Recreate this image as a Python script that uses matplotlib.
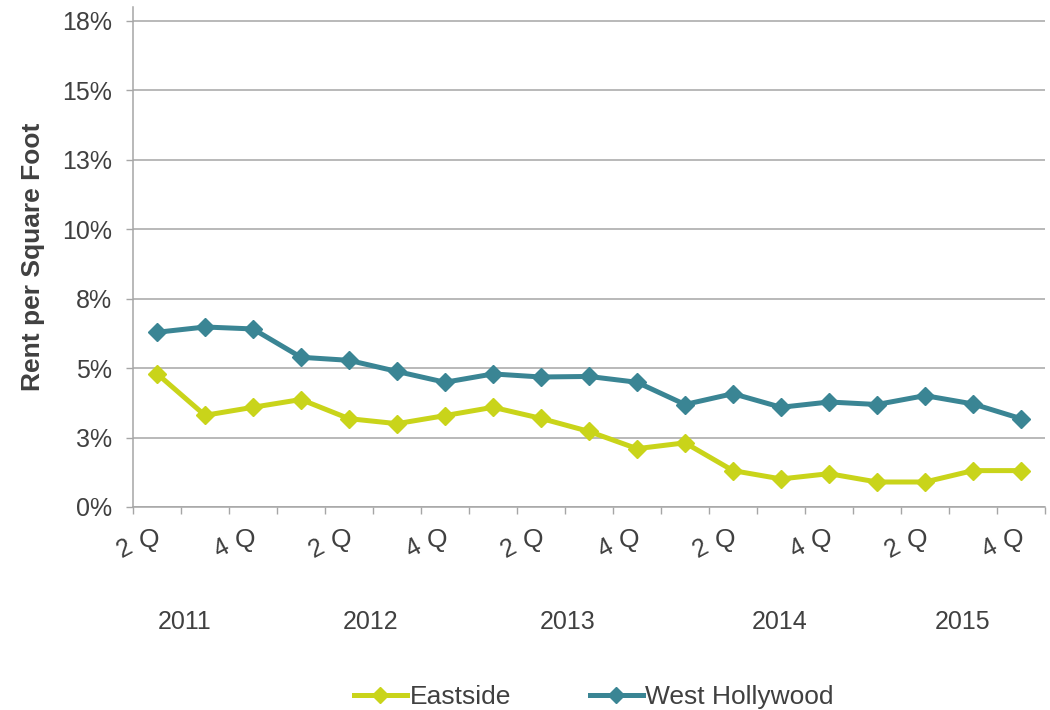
import matplotlib.pyplot as plt
from matplotlib.ticker import FuncFormatter

plt.rcParams["font.family"] = ["Liberation Sans", "DejaVu Sans"]

# quarterly series, 2Q 2011 .. 4Q 2015
quarters = ["2", "3", "4", "1", "2", "3", "4", "1", "2", "3", "4",
            "1", "2", "3", "4", "1", "2", "3", "4"]
eastside = [4.80, 3.30, 3.59, 3.87, 3.18, 3.00, 3.29, 3.59, 3.19, 2.72,
            2.10, 2.31, 1.31, 1.01, 1.20, 0.90, 0.90, 1.31, 1.31]
west_hollywood = [6.29, 6.48, 6.41, 5.39, 5.28, 4.88, 4.49, 4.79, 4.68, 4.70,
                  4.49, 3.69, 4.08, 3.59, 3.78, 3.69, 4.01, 3.71, 3.18]
years = ["2011", "2012", "2013", "2014", "2015"]
year_pos = [0.58, 4.44, 8.56, 12.98, 16.79]
y_ticks = [0, 2.5, 5, 7.5, 10, 12.5, 15, 17.5]

text_col = "#404040"
grid_col = "#A6A6A6"

fig = plt.figure(figsize=(10.5, 7.1), dpi=100)
ax = fig.add_axes([133 / 1050, 1 - 507 / 710, 912 / 1050, 500 / 710])

x = list(range(len(quarters)))
ax.plot(x, eastside, color="#C9D41A", lw=3.6, marker="D", ms=9,
        label="Eastside", zorder=3)
ax.plot(x, west_hollywood, color="#3A8594", lw=3.6, marker="D", ms=9,
        label="West Hollywood", zorder=3)

ax.set_xlim(-0.5, len(quarters) - 0.5)
ax.set_ylim(0, 18)
ax.set_yticks(y_ticks)
# excel style rounding (half up)
ax.yaxis.set_major_formatter(FuncFormatter(lambda v, p: f"{int(v + 0.5)}%"))
ax.grid(axis="y", color=grid_col, lw=1.1)
ax.set_axisbelow(True)

ax.set_xticks([i - 0.5 for i in range(len(quarters) + 1)])
ax.set_xticklabels([])
ax.tick_params(axis="x", length=5, width=1, color=grid_col, direction="out")
ax.tick_params(axis="y", length=5, width=1, color=grid_col, pad=10,
               labelsize=18, labelcolor=text_col)

for s in ["top", "right"]:
    ax.spines[s].set_visible(False)
for s in ["left", "bottom"]:
    ax.spines[s].set_color(grid_col)
    ax.spines[s].set_linewidth(1.1)

ax.set_ylabel("Rent per Square Foot", fontsize=19, fontweight="bold",
              color=text_col, labelpad=12)

# quarter labels: tilted number + upright Q
for i, q in enumerate(quarters):
    if i % 2:
        continue
    ax.annotate(q, xy=(i, 0), xycoords=("data", "axes fraction"),
                xytext=(-32, -42), textcoords="offset pixels",
                ha="center", va="center", rotation=28,
                fontsize=18, color=text_col)
    ax.annotate("Q", xy=(i, 0), xycoords=("data", "axes fraction"),
                xytext=(-8, -33), textcoords="offset pixels",
                ha="center", va="center", fontsize=19, color=text_col)

for yr, p in zip(years, year_pos):
    ax.annotate(yr, xy=(p, 0), xycoords=("data", "axes fraction"),
                xytext=(0, -115), textcoords="offset pixels",
                ha="center", va="center", fontsize=18, color=text_col)

leg = fig.legend(loc="center", bbox_to_anchor=(594 / 1050, 1 - 697 / 710),
                 ncol=2, frameon=False, fontsize=19, handlelength=2.0,
                 columnspacing=3.0, handletextpad=0.1, markerscale=0.85)
for t in leg.get_texts():
    t.set_color(text_col)

fig.savefig("out.png", dpi=100)
